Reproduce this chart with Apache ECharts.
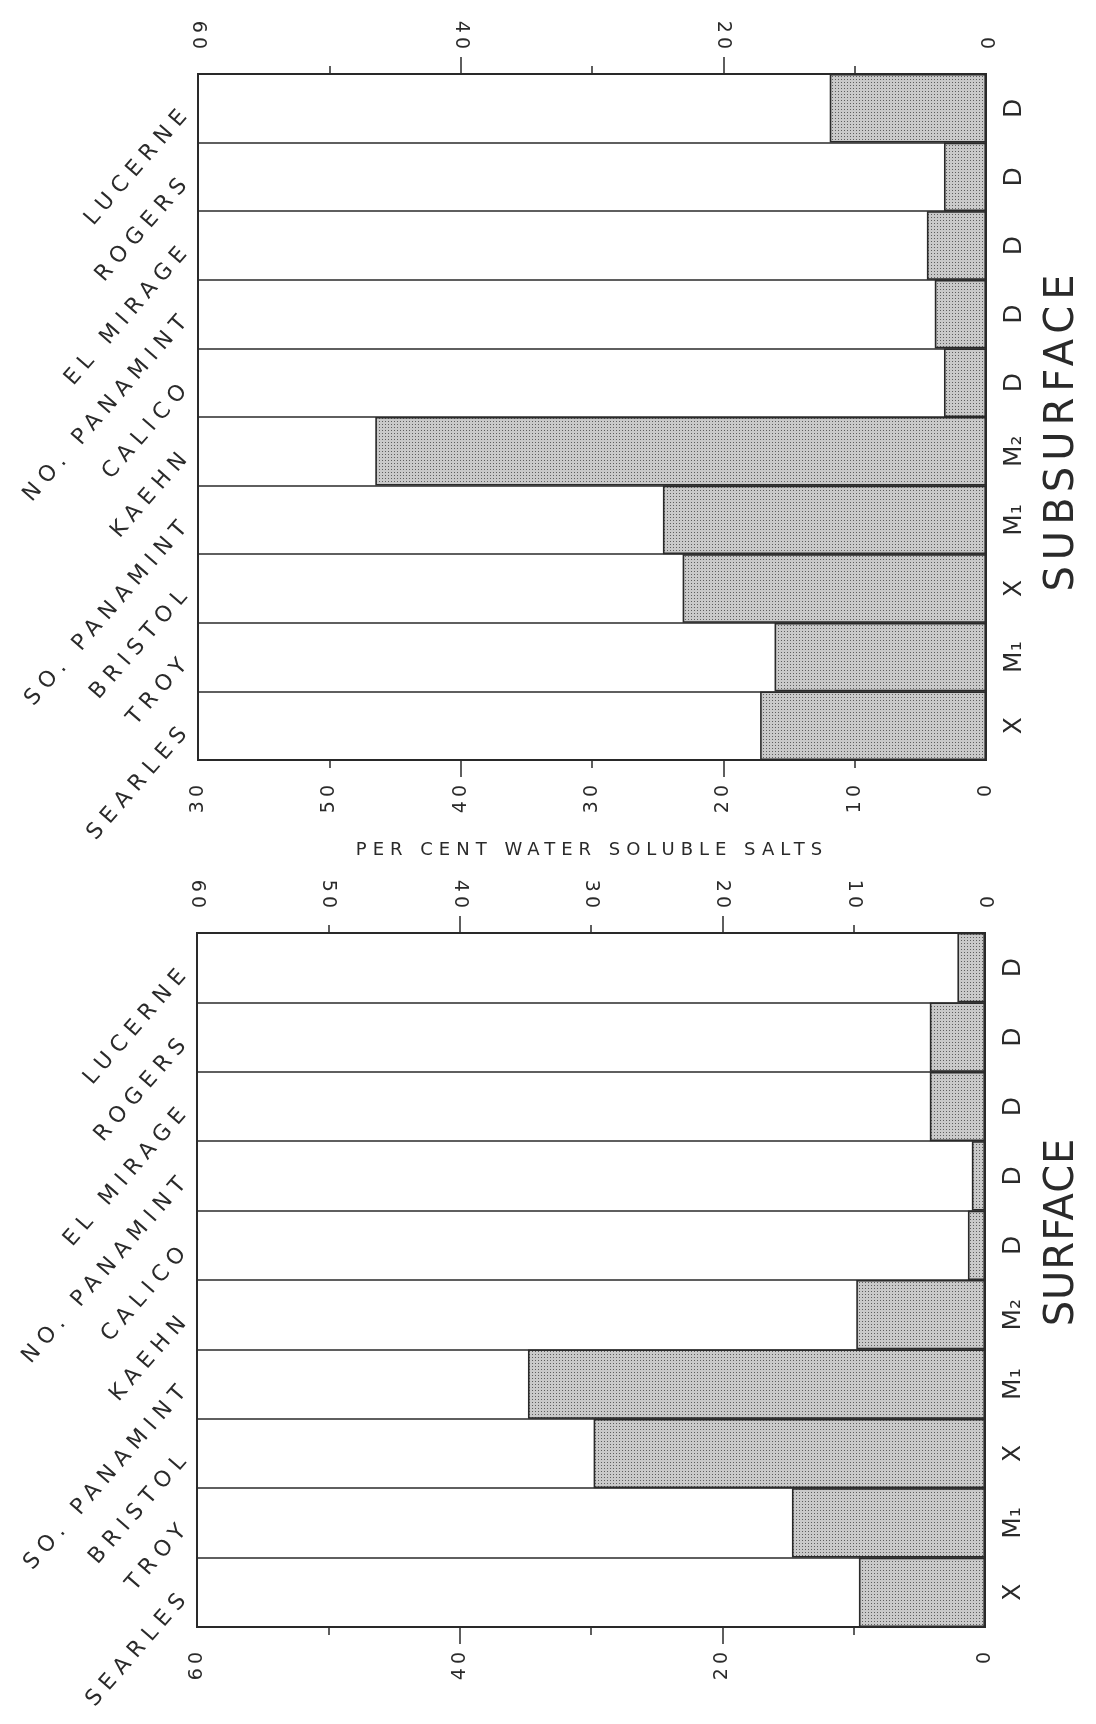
<!DOCTYPE html>
<html><head><meta charset="utf-8">
<script src="https://cdn.jsdelivr.net/npm/echarts@6/dist/echarts.min.js"></script>
<style>html,body{margin:0;padding:0;background:#fff}#c{width:1096px;height:1724px}</style>
</head><body><div id="c"></div>
<script>
// ---------- data ----------
const categories = ['LUCERNE','ROGERS','EL MIRAGE','NO. PANAMINT','CALICO','KAEHN','SO. PANAMINT','BRISTOL','TROY','SEARLES'];
const lakeClasses = ['D','D','D','D','D','M₂','M₁','X','M₁','X'];
const subsurfaceSalts = [11.9, 3.2, 4.5, 3.9, 3.2, 46.5, 24.6, 23.1, 16.1, 17.2];
const surfaceSalts = [2.1, 4.2, 4.2, 1.0, 1.3, 9.8, 34.8, 29.8, 14.7, 9.6];
const subTopTicks = [60, 40, 20, 0];
const subTopTickText = ['60', '40', '20', '0'];
const subBottomTicks = [60, 50, 40, 30, 20, 10, 0];
const subBottomTickText = ['30', '50', '40', '30', '20', '10', '0'];
const surfTopTicks = [60, 50, 40, 30, 20, 10, 0];
const surfTopTickText = ['60', '50', '40', '30', '20', '10', '0'];
const surfBottomTicks = [60, 40, 20, 0];
const surfBottomTickText = ['60', '40', '20', '0'];
const axisTitle = 'PER CENT WATER SOLUBLE SALTS';
const panelTitles = ['SUBSURFACE', 'SURFACE'];

// ---------- letter spacing support (spacing token carried in font family list) ----------
(function () {
  const proto = CanvasRenderingContext2D.prototype;
  const orig = proto.fillText;
  proto.fillText = function (t, x, y, w) {
    if ('letterSpacing' in this) {
      const m = /sp(\d+)x/.exec(this.font || '');
      this.letterSpacing = m ? m[1] + 'px' : '0px';
    }
    return w === undefined ? orig.call(this, t, x, y) : orig.call(this, t, x, y, w);
  };
})();
function fam(sp) { return "'DejaVu Sans', sp" + sp + "x, sans-serif"; }

// ---------- stipple pattern ----------
const pat = document.createElement('canvas');
pat.width = 3; pat.height = 3;
const pctx = pat.getContext('2d');
pctx.fillStyle = '#c9c9c9'; pctx.fillRect(0, 0, 3, 3);
pctx.fillStyle = '#5e5e5e'; pctx.fillRect(1, 1, 1, 1);
const stipple = { image: pat, repeat: 'repeat' };

const INK = '#2a2a2a';

function valueAxis(gridIndex, position, tickVals, tickText, extra) {
  return Object.assign({
    type: 'value', gridIndex: gridIndex, position: position,
    min: 0, max: 60, interval: 20, inverse: true,
    axisLine: { show: false }, splitLine: { show: false },
    axisTick: { show: true, customValues: [40, 20], length: 17, lineStyle: { color: INK, width: 1.5 } },
    minorTick: { show: true, splitNumber: 2, length: 8, lineStyle: { color: INK, width: 1.5 } },
    axisLabel: {
      customValues: tickVals,
      formatter: function (v) { const i = tickVals.indexOf(v); return i >= 0 ? tickText[i] : ''; },
      rotate: 90, margin: 21, fontSize: 19, fontFamily: fam(4), color: INK
    }
  }, extra || {});
}
function catAxis(gridIndex) {
  return {
    type: 'category', gridIndex: gridIndex, data: categories, inverse: true, position: 'left',
    axisLine: { show: false }, axisTick: { show: false },
    splitLine: { show: true, interval: 0, lineStyle: { color: INK, width: 1.6 } },
    axisLabel: { interval: 0, rotate: 49, margin: 10, fontSize: 22, fontFamily: fam(7), color: INK }
  };
}
function classAxis(gridIndex) {
  return {
    type: 'category', gridIndex: gridIndex, data: categories, inverse: true, position: 'right',
    axisLine: { show: false }, axisTick: { show: false }, splitLine: { show: false },
    axisLabel: {
      interval: 0, rotate: 90, margin: 16, fontSize: 25, fontFamily: fam(0), color: INK,
      formatter: function (v, i) { return lakeClasses[i]; }
    }
  };
}
function barSeries(xi, yi, data) {
  return {
    type: 'bar', xAxisIndex: xi, yAxisIndex: yi, data: data, barWidth: '100%', silent: true,
    itemStyle: { color: stipple, borderColor: INK, borderWidth: 1.6 }
  };
}

const chart = echarts.init(document.getElementById('c'), null, { renderer: 'canvas' });
chart.setOption({
  backgroundColor: '#fff',
  animation: false,
  grid: [
    { left: 198, top: 74, width: 788, height: 686, show: true, borderColor: INK, borderWidth: 2, backgroundColor: '#fff', outerBoundsMode: 'none' },
    { left: 197, top: 933, width: 788, height: 694, show: true, borderColor: INK, borderWidth: 2, backgroundColor: '#fff', outerBoundsMode: 'none' }
  ],
  xAxis: [
    valueAxis(0, 'top', subTopTicks, subTopTickText),
    valueAxis(0, 'bottom', subBottomTicks, subBottomTickText, {
      name: axisTitle, nameLocation: 'middle', nameGap: 81,
      nameTextStyle: { fontSize: 18, fontFamily: fam(6), color: INK }
    }),
    valueAxis(1, 'top', surfTopTicks, surfTopTickText),
    valueAxis(1, 'bottom', surfBottomTicks, surfBottomTickText)
  ],
  yAxis: [catAxis(0), classAxis(0), catAxis(1), classAxis(1)],
  series: [barSeries(0, 0, subsurfaceSalts), barSeries(2, 2, surfaceSalts)],
  graphic: [
    { type: 'text', x: 1063, y: 430, rotation: Math.PI / 2, silent: true,
      style: { text: panelTitles[0], font: "40px 'DejaVu Sans', sp6x, sans-serif", fill: INK, align: 'center', verticalAlign: 'middle' } },
    { type: 'text', x: 1063, y: 1232, rotation: Math.PI / 2, silent: true,
      style: { text: panelTitles[1], font: "40px 'DejaVu Sans', sp1x, sans-serif", fill: INK, align: 'center', verticalAlign: 'middle' } }
  ]
});
</script>
</body></html>
